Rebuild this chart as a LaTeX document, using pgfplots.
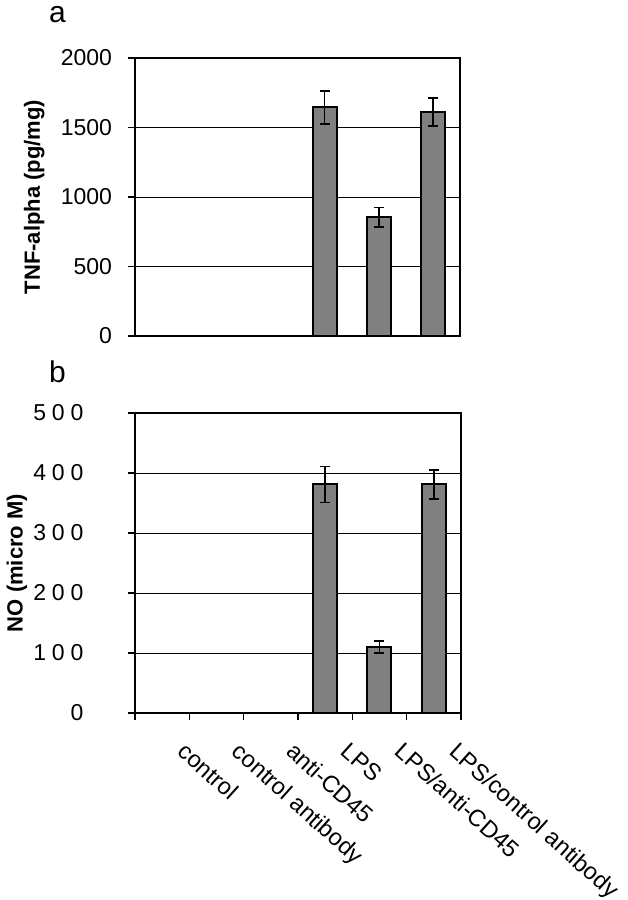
\documentclass[border=0pt]{standalone}
\usepackage{fontspec}
\setmainfont{Liberation Sans}
\newfontfamily\spaced[LetterSpace=25]{Liberation Sans}
\usepackage{pgfplots}
\pgfplotsset{compat=1.18}
\newcommand{\pa}[1]{#1\hspace*{1.5pt}}
\newcommand{\pb}[1]{#1\hspace*{2.8pt}}

\pgfplotsset{
  panel/.style={
    scale only axis,
    xmin=0.5, xmax=6.5, ymin=0,
    axis line style={black, line width=0.6pt},
    ymajorgrids, grid style={black, line width=0.5pt},
    tick align=outside, tick pos=left,
    major tick length=3.5pt,
    tick style={black, line width=0.6pt},
    ylabel style={font=\bfseries\fontsize{11}{13}\selectfont, anchor=center},
  },
  gbar/.style={
    ybar, bar width=12pt, fill=gray, draw=black, line width=1pt,
    error bars/.cd, y dir=both, y explicit,
    error bar style={black, line width=0.8pt},
    error mark options={rotate=90, mark size=2.5pt, line width=0.8pt, black},
  },
}

\begin{document}
\begin{tikzpicture}
\useasboundingbox (0,0) rectangle (313.5pt,-450pt);

% panel a
\node[anchor=base west, font=\fontsize{15}{17}\selectfont] at (21pt,-11pt) {a};
\begin{axis}[panel,
    at={(67.5pt,-168pt)}, anchor=south west,
    width=162.5pt, height=139pt,
    ymax=2000, ytick={0,500,1000,1500,2000},
    yticklabels={\pa{0},\pa{500},\pa{1000},\pa{1500},\pa{2000}},
    yticklabel style={anchor=east, xshift=-3pt, font=\fontsize{11.5}{13}\selectfont},
    xtick=\empty,
    ylabel={TNF-alpha (pg/mg)},
    ylabel style={at={(axis description cs:-0.31,0.5)}},
]
\addplot[gbar] coordinates {
  (4,1645) +- (0,118)
  (5,855)  +- (0,70)
  (6,1612) +- (0,102)
};
\end{axis}

% panel b
\node[anchor=base west, font=\fontsize{15}{17}\selectfont] at (21pt,-191pt) {b};
\begin{axis}[panel,
    at={(67.5pt,-356.5pt)}, anchor=south west,
    width=163pt, height=150pt,
    ymax=500, ytick={0,100,...,500},
    yticklabels={\pb{0},\pb{100},\pb{200},\pb{300},\pb{400},\pb{500}},
    yticklabel style={anchor=east, xshift=-16pt, font=\spaced\fontsize{11.5}{13}\selectfont},
    xtick={1,...,6},
    xticklabels={control, control antibody, anti-CD45, LPS, LPS/anti-CD45, LPS/control antibody},
    minor xtick={0.5,1.5,...,6.5},
    major x tick style={draw=none},
    minor tick length=3.5pt,
    xticklabel style={xshift=12.6pt, yshift=-5.5pt, rotate=-42, anchor=north west, font=\fontsize{11.8}{14}\selectfont},
    ylabel={NO (micro M)},
    ylabel style={at={(axis description cs:-0.362,0.5)}},
]
\addplot[gbar] coordinates {
  (4,381) +- (0,30)
  (5,110) +- (0,10)
  (6,381) +- (0,24)
};
\end{axis}
\end{tikzpicture}
\end{document}
